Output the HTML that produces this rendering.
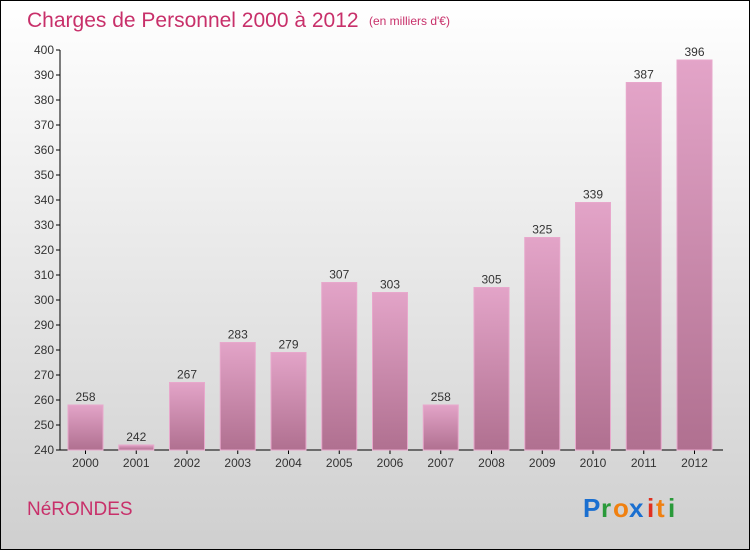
<!DOCTYPE html>
<html><head><meta charset="utf-8"><style>
body{margin:0}
#c{position:relative;width:748px;height:548px;border:1px solid #000;background:linear-gradient(#ffffff,#cfcfcf);overflow:hidden;font-family:"Liberation Sans",sans-serif}
</style></head><body>
<div id="c">
<svg width="748" height="548" style="position:absolute;left:0;top:0">
<defs><linearGradient id="bg" x1="0" y1="0" x2="0" y2="1"><stop offset="0" stop-color="#e3a4c8"/><stop offset="1" stop-color="#b07090"/></linearGradient></defs>
<text x="26" y="26" font-size="21" fill="#c8306a">Charges de Personnel 2000 à 2012</text>
<text x="368" y="24" font-size="12" fill="#c8306a">(en milliers d'€)</text>
<text x="26" y="514" font-size="19" fill="#c8306a">NéRONDES</text>
<g font-size="26" font-weight="bold">
<text x="582" y="516" fill="#1a6fd0">P</text><text x="600" y="516" fill="#2a9a3a">r</text><text x="612" y="516" fill="#f08010">o</text><text x="628" y="516" fill="#1a6fd0">x</text><text x="646" y="516" fill="#e03020">i</text><text x="655" y="516" fill="#f08010">t</text><text x="667" y="516" fill="#2a9a3a">i</text>
</g>
<g id="axes"></g><g id="bars"></g>
</svg>
</div>
<script>
const years=["2000","2001","2002","2003","2004","2005","2006","2007","2008","2009","2010","2011","2012"];
const values=[258,242,267,283,279,307,303,258,305,325,339,387,396];
const ticks=[240,250,260,270,280,290,300,310,320,330,340,350,360,370,380,390,400];
const NS="http://www.w3.org/2000/svg";
const y=v=>449-(v-240)*2.5;
const x=i=>67+i*50.75;
const ax=document.getElementById('axes'),bg=document.getElementById('bars');
function mk(t,a,p){const e=document.createElementNS(NS,t);for(const k in a)e.setAttribute(k,a[k]);p.appendChild(e);return e;}
let l=mk('line',{x1:59,y1:49,x2:59,y2:449,stroke:'#000'},ax);


l=mk('line',{x1:59,y1:449,x2:722,y2:449,stroke:'#000'},ax);


ticks.forEach(t=>{
 mk('line',{x1:55,x2:59,y1:y(t),y2:y(t),stroke:'#000'},ax);
 const e=mk('text',{x:53,y:y(t)+4,'font-size':12,'text-anchor':'end',fill:'#333'},ax);
 e.textContent=t;
 
 
});
years.forEach((yr,i)=>{
 const v=values[i],cx=x(i)+17.5;
 const r=mk('rect',{x:x(i),y:y(v),width:35,height:449-y(v),fill:'url(#bg)',stroke:'#e8a8cc','stroke-width':1},bg);
 
 
 const vl=mk('text',{x:cx,y:y(v)-4,'font-size':12,'text-anchor':'middle',fill:'#333'},bg);
 vl.textContent=v;
 
 
 mk('line',{x1:cx,x2:cx,y1:449,y2:453,stroke:'#000'},ax);
 const xl=mk('text',{x:cx,y:466,'font-size':12,'text-anchor':'middle',fill:'#333'},ax);
 xl.textContent=yr;
 
 
});
</script>
</body></html>
